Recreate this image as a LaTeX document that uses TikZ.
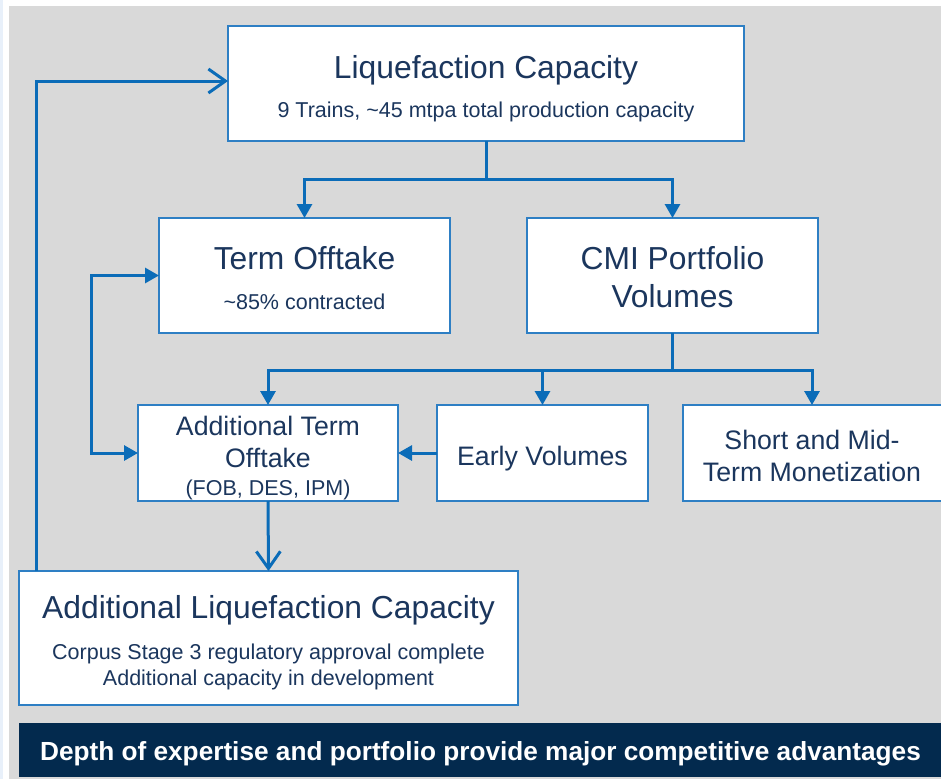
\documentclass[tikz,border=0pt]{standalone}
\usepackage{fontspec}
\setmainfont{Liberation Sans}
\usetikzlibrary{arrows.meta}
\definecolor{bggray}{HTML}{D9D9D9}
\definecolor{boxblue}{HTML}{2E7FC4}
\definecolor{linkblue}{HTML}{0B6CB8}
\definecolor{txt}{HTML}{1B365D}
\definecolor{navy}{HTML}{032A4E}
\definecolor{strip}{HTML}{E8F0FA}
\tikzset{
  box/.style={draw=boxblue, line width=1.1pt, fill=white, inner sep=0pt, outer sep=0pt},
  conn/.style={draw=linkblue, line width=3pt},
  filltip/.style={-{Triangle[length=14pt,width=15pt]}},
  opentip/.style={-{Straight Barb[length=17pt,width=24pt]}},
  ttl/.style={text=txt, font=\fontsize{31.8}{36}\selectfont, anchor=base, inner sep=0pt},
  mid/.style={text=txt, font=\fontsize{26.7}{30}\selectfont, anchor=base, inner sep=0pt},
  sub/.style={text=txt, font=\fontsize{21.5}{25}\selectfont, anchor=base, inner sep=0pt},
}
\begin{document}
\begin{tikzpicture}[x=1pt,y=-1pt]
\useasboundingbox (0,0) rectangle (941,779);
\fill[white] (0,0) rectangle (941,779);
\fill[strip] (0,0) rectangle (3,779);
\fill[bggray] (9,6) rectangle (941,779);

% boxes
\node[box, minimum width=516pt, minimum height=115pt] (liq) at (486,83.5) {};
\node[box, minimum width=291pt, minimum height=115pt] (to) at (304.5,275.5) {};
\node[box, minimum width=291pt, minimum height=115pt] (cmi) at (672.5,275.5) {};
\node[box, minimum width=260pt, minimum height=96pt] (ato) at (268,453) {};
\node[box, minimum width=211pt, minimum height=96pt] (ev) at (542.5,453) {};
\node[box, minimum width=260pt, minimum height=96pt] (smt) at (813,453) {};
\node[box, minimum width=499pt, minimum height=134pt] (alc) at (268.5,638) {};
\node[fill=navy, minimum width=922pt, minimum height=54pt, inner sep=0pt] (ban) at (480,750) {};

% texts
\node[ttl] (liqT) at (486,78) {Liquefaction Capacity};
\node[sub] (liqS) at (486,117.5) {9 Trains, \textasciitilde 45 mtpa total production capacity};
\node[ttl] (toT) at (304.5,269) {Term Offtake};
\node[sub] (toS) at (304.5,309.5) {\textasciitilde 85\% contracted};
\node[ttl] (cmiT1) at (672.5,269) {CMI Portfolio};
\node[ttl] (cmiT2) at (672.5,307) {Volumes};
\node[mid] (atoT1) at (268,435) {Additional Term};
\node[mid] (atoT2) at (268,467) {Offtake};
\node[sub] (atoS) at (268,495.5) {(FOB, DES, IPM)};
\node[mid] (evT) at (542.5,465) {Early Volumes};
\node[mid] (smtT1) at (812,449) {Short and Mid-};
\node[mid] (smtT2) at (812,481) {Term Monetization};
\node[ttl] (alcT) at (268.5,618) {Additional Liquefaction Capacity};
\node[sub] (alcS1) at (268.5,659.5) {Corpus Stage 3 regulatory approval complete};
\node[sub] (alcS2) at (268.5,685.5) {Additional capacity in development};
\node[text=white, font=\bfseries\fontsize{26.2}{30}\selectfont, anchor=base, inner sep=0pt] (banT) at (480.5,760) {Depth of expertise and portfolio provide major competitive advantages};

% connectors
\coordinate (b1) at (486,179);
\draw[conn] (liq.south) -- (b1);
\draw[conn, filltip] (b1) -| (to.north);
\draw[conn, filltip] (b1) -| (cmi.north);
\coordinate (b2) at (672.5,370);
\draw[conn] (cmi.south) -- (b2);
\draw[conn, filltip] (b2) -| (ato.north);
\draw[conn, filltip] (b2) -| (ev.north);
\draw[conn, filltip] (b2) -| ([xshift=-1pt]smt.north);
\draw[conn, filltip] (ev.west) -- (ato.east);
\coordinate (lp) at (91,364);
\draw[conn, {Triangle[length=14pt,width=15pt]}-{Triangle[length=14pt,width=15pt]}] (to.west) -| (lp) |- (ato.west);
\draw[conn, opentip] (ato.south) -- (alc.north);
\coordinate (fb) at (36,571);
\draw[conn, opentip] (fb) |- ([yshift=2.5pt]liq.west);
\end{tikzpicture}
\end{document}
